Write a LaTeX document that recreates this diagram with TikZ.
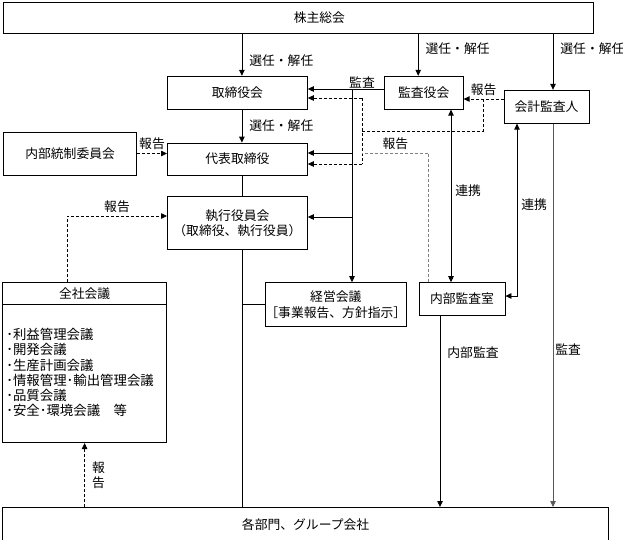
\documentclass[tikz,border=0pt]{standalone}
\usepackage{fontspec}
\setmainfont{Noto Sans CJK JP}
\usepackage{tikz}
\usetikzlibrary{arrows.meta,positioning}

\begin{document}
\begin{tikzpicture}[
    x=1pt, y=1pt,
    box/.style={draw, line width=0.8pt, inner sep=0pt, align=center, font=\fontsize{12.8}{15.5}\selectfont},
    lbl/.style={inner sep=1pt, font=\fontsize{12.8}{14.5}\selectfont},
    arr/.style={-{Triangle[length=6pt, width=5.5pt]}, line width=0.8pt},
    dblarr/.style={{Triangle[length=6pt, width=5.5pt]}-{Triangle[length=6pt, width=5.5pt]}, line width=0.8pt},
    rpt/.style={line width=0.8pt, dash pattern=on 3pt off 2pt},
    rptarr/.style={arr, dash pattern=on 3pt off 2pt},
]
\useasboundingbox (0,0) rectangle (623,-539);

% Governance
\node[box, minimum width=590pt, minimum height=31pt, anchor=north west] (agm) at (3,-2) {\hspace*{42pt}株主総会};
\node[box, minimum width=140pt, minimum height=33pt, below right=42pt and 164pt of agm.south west] (board) {取締役会};
\node[box, minimum width=79pt, minimum height=33pt, right=76pt of board] (kansa) {監査役会};
\node[box, minimum width=85pt, minimum height=33pt, below right=14pt and 40pt of kansa.north east] (auditor) {会計監査人};

% Execution
\node[box, minimum width=140pt, minimum height=32pt, below=33pt of board] (ceo) {代表取締役};
\node[box, minimum width=133pt, minimum height=43pt, above left=0pt and 30pt of ceo.south west] (ctrl) {内部統制委員会};
\node[box, minimum width=140pt, minimum height=53pt, below=21pt of ceo] (exec) {執行役員会\\（取締役、執行役員）};

% Meetings
\node[box, minimum width=164pt, minimum height=160pt, below left=32pt and 0pt of exec.south west] (zensha) {};
\node[lbl, minimum height=22pt, inner sep=0pt, below=0pt of zensha.north] (zenshahd) {全社会議};
\node[lbl, align=left, inner sep=0pt, font=\fontsize{13.4}{15.2}\selectfont, below right=46pt and 4pt of zensha.north west] (zenshali) {･利益管理会議\\･開発会議\\･生産計画会議\\･情報管理･輸出管理会議\\･品質会議\\･安全･環境会議　等};
\node[box, minimum width=140pt, minimum height=44pt, below right=32pt and 98pt of exec.south west] (keiei) {経営会議\\［事業報告、方針指示］};
\node[box, minimum width=86pt, minimum height=33pt, below right=0pt and 12pt of keiei.north east] (naibu) {内部監査室};
\node[box, minimum width=606pt, minimum height=34pt, below right=64pt and 0pt of zensha.south west] (depts) {各部門、グループ会社};
\draw[line width=0.8pt] (zensha.west |- zenshahd.south) -- (zensha.east |- zenshahd.south);

% Appointment
\coordinate (sx) at ([xshift=4.5pt]board.south);
\draw[arr] (sx |- agm.south) -- (sx |- board.north) node[lbl, pos=0.64, right=6pt] (sel1) {選任・解任};
\draw[arr] (sx |- board.south) -- (sx |- ceo.north) node[lbl, midway, right=6pt] (sel2) {選任・解任};
\draw[arr] ([xshift=-5.5pt]kansa.north |- agm.south) -- ([xshift=-5.5pt]kansa.north) node[lbl, pos=0.36, right=6pt] (sel3) {選任・解任};
\draw[arr] ([xshift=6.5pt]auditor.north |- agm.south) -- ([xshift=6.5pt]auditor.north) node[lbl, pos=0.27, right=6pt] (sel4) {選任・解任};

% Command line
\draw[line width=0.8pt] (sx |- ceo.south) -- (sx |- exec.north);
\draw[line width=0.8pt] (sx |- exec.south) -- (sx |- depts.north);
\draw[line width=0.8pt] (sx |- keiei.west) -- (keiei.west);

% Audit by 監査役会
\coordinate (kt) at (352,-89);
\coordinate (kc) at (352,-153);
\coordinate (ke) at (352,-217);
\draw[arr] (kansa.west |- kt) -- (board.east |- kt);
\node[lbl, above right=0pt and -4pt of kt] (kansalbl) {監査};
\draw[arr] (kt) -- (kt |- keiei.north);
\draw[arr] (kc) -- (ceo.east |- kc);
\draw[arr] (ke) -- (exec.east |- ke);

% Reports
\coordinate (ra) at (483,-99);
\coordinate (rb) at (483,-131);
\coordinate (rc) at (362,-131);
\coordinate (rt) at (362,-98);
\coordinate (rd) at (362,-164);
\coordinate (ri) at (362,-153);
\draw[rptarr] (auditor.west |- ra) -- (kansa.east |- ra) node[lbl, midway, above=2pt] (rep1) {報告};
\draw[rpt] (ra) -- (rb) -- (rc);
\draw[rptarr] (rt) -- (board.east |- rt);
\draw[rpt] (rt) -- (rd);
\draw[rptarr] (rd) -- (ceo.east |- rd);
\draw[rpt, gray] ([xshift=10pt]naibu.north west) |- (ri) node[lbl, pos=0.75, above=2pt, black] (rep2) {報告};
\coordinate (zr) at (67,-216);
\draw[rptarr] (zr |- zensha.north) -- (zr) -- (exec.west |- zr) node[lbl, midway, above=2pt] (rep3) {報告};
\draw[rptarr] (zensha.south |- depts.north) -- (zensha.south) node[lbl, midway, right=6pt, align=center] (rep4) {報\\告};
\draw[rptarr] (ctrl.east) -- (ctrl.east -| ceo.west) node[lbl, midway, above=2pt] (rep5) {報告};

% Cooperation
\draw[dblarr] ([xshift=-11pt]naibu.north |- kansa.south) -- ([xshift=-11pt]naibu.north) node[lbl, pos=0.47, right=3pt] (ren1) {連携};
\coordinate (lc) at (517,-296);
\draw[dblarr] (lc |- auditor.south) -- node[lbl, pos=0.47, right=3pt] (ren2) {連携} (lc) -- (naibu.east |- lc);

% Audit of departments
\draw[arr] ([xshift=-22pt]naibu.south) -- ([xshift=-22pt]naibu.south |- depts.north) node[lbl, pos=0.19, right=6pt] (naibulbl) {内部監査};
\draw[arr, gray!70!black] ([xshift=6.5pt]auditor.south) -- ([xshift=6.5pt]auditor.south |- depts.north) node[lbl, pos=0.59, right=1pt, black] (kaikeilbl) {監査};
\end{tikzpicture}
\end{document}
